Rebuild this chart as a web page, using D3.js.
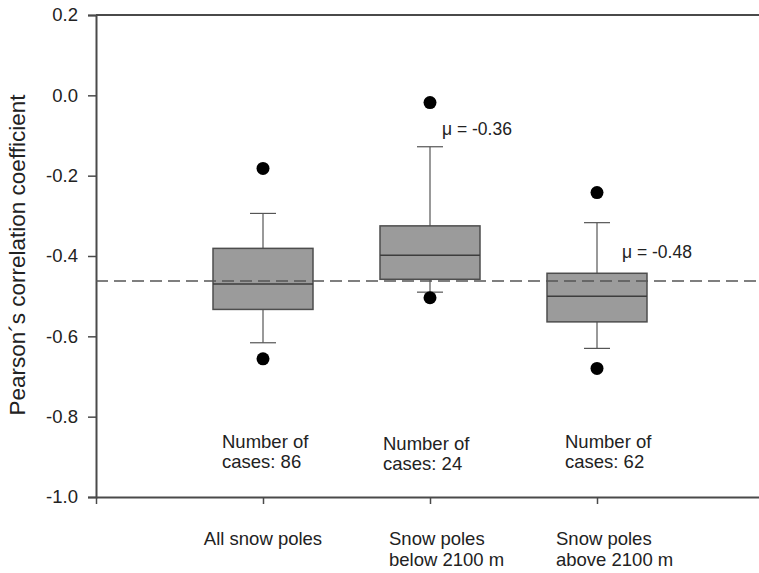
<html>
    <head>
        <style>
            body {
                background-color: white;
                margin: 0;
                padding: 0;
            }
            svg {
                display: block;
                font-family: Arial, "Liberation Sans", Helvetica, sans-serif;
            }
        </style>
        <script src="https://cdn.jsdelivr.net/npm/d3@7"></script>
    </head>
    <body>

        <svg width="759" height="573"></svg>

        <script>
            // box plot values
            const categories = [["All snow poles"], ["Snow poles", "below 2100 m"], ["Snow poles", "above 2100 m"]];
            const whiskerHigh = [-0.294, -0.128, -0.317];
            const q3 = [-0.381, -0.325, -0.443];
            const median = [-0.470, -0.398, -0.500];
            const q1 = [-0.533, -0.458, -0.564];
            const whiskerLow = [-0.616, -0.490, -0.630];
            const outlierHigh = [-0.182, -0.018, -0.242];
            const outlierLow = [-0.656, -0.504, -0.680];
            const caseCounts = [86, 24, 62];
            const meanLabels = [null, "-0.36", "-0.48"];
            const overallMean = -0.462;
            const yTicks = [0.2, 0.0, -0.2, -0.4, -0.6, -0.8, -1.0];

            const svg = d3.select("svg");

            const plotLeft = 96, plotTop = 15, plotBottom = 497, plotRight = 764;
            const y = d3.scaleLinear().domain([-1.0, 0.2]).range([plotBottom, plotTop]);
            const x = d3.scaleLinear().domain([0, 4]).range([plotLeft, plotRight]);
            const boxW = 100, capW = 26;
            const axisColor = "#4a4a4a";

            const boxes = categories.map((c, i) => ({
                pos: i + 1, hi: whiskerHigh[i], q3: q3[i], med: median[i], q1: q1[i], lo: whiskerLow[i],
                outHi: outlierHigh[i], outLo: outlierLow[i], n: caseCounts[i], mu: meanLabels[i], label: c
            }));

            // frame (right side runs off the picture)
            svg.append("line")
                .attr("x1", plotLeft).attr("x2", plotRight)
                .attr("y1", plotTop).attr("y2", plotTop)
                .attr("stroke", axisColor).attr("stroke-width", 2);

            // y axis
            let yAxis = svg.append("g")
                .attr("transform", `translate(${plotLeft},0)`)
                .call(d3.axisLeft(y).tickValues(yTicks).tickSize(8).tickPadding(10));
            yAxis.select(".domain").attr("stroke", axisColor).attr("stroke-width", 2);
            yAxis.selectAll(".tick line").attr("stroke", axisColor).attr("stroke-width", 1.5);
            yAxis.selectAll(".tick text")
                .attr("font-size", "18.5px")
                .attr("font-family", "Arial, 'Liberation Sans', sans-serif")
                .attr("fill", "#222")
                .text(d => d.toFixed(1));

            // x axis
            let xAxis = svg.append("g")
                .attr("transform", `translate(0,${plotBottom})`)
                .call(d3.axisBottom(x).tickValues([0, 1, 2, 3, 4]).tickFormat("").tickSize(7).tickSizeOuter(0));
            xAxis.select(".domain").attr("stroke", axisColor).attr("stroke-width", 2);
            xAxis.selectAll(".tick line").attr("stroke", axisColor).attr("stroke-width", 1.5);

            const g = svg.append("g");

            // whiskers
            boxes.forEach(b => {
                const cx = x(b.pos);
                [[b.q3, b.hi], [b.q1, b.lo]].forEach(([a, e]) => {
                    g.append("line")
                        .attr("x1", cx).attr("x2", cx)
                        .attr("y1", y(a)).attr("y2", y(e))
                        .attr("stroke", "#555").attr("stroke-width", 1.2);
                    g.append("line")
                        .attr("x1", cx - capW / 2).attr("x2", cx + capW / 2)
                        .attr("y1", y(e)).attr("y2", y(e))
                        .attr("stroke", "#555").attr("stroke-width", 1.2);
                });
            });

            // boxes
            g.selectAll("rect.box")
                .data(boxes)
                .join("rect")
                .attr("class", "box")
                .attr("x", d => x(d.pos) - boxW / 2)
                .attr("width", boxW)
                .attr("y", d => y(d.q3))
                .attr("height", d => y(d.q1) - y(d.q3))
                .attr("fill", "#9b9b9b")
                .attr("stroke", "#4d4d4d")
                .attr("stroke-width", 1.5);

            g.selectAll("line.median")
                .data(boxes)
                .join("line")
                .attr("class", "median")
                .attr("x1", d => x(d.pos) - boxW / 2)
                .attr("x2", d => x(d.pos) + boxW / 2)
                .attr("y1", d => y(d.med))
                .attr("y2", d => y(d.med))
                .attr("stroke", "#3d3d3d")
                .attr("stroke-width", 1.5);

            // outliers
            boxes.forEach(b => {
                [b.outHi, b.outLo].forEach(v => {
                    g.append("circle")
                        .attr("cx", x(b.pos)).attr("cy", y(v))
                        .attr("r", 6.5).attr("fill", "black");
                });
            });

            // mean line across the plot
            svg.append("line")
                .attr("x1", plotLeft).attr("x2", plotRight)
                .attr("y1", y(overallMean)).attr("y2", y(overallMean))
                .attr("stroke", "#555").attr("stroke-width", 1.5)
                .attr("stroke-dasharray", "12,6");

            // mu labels
            const muDx = [0, 12, 25];
            const muY = [0, 135, 258];
            boxes.forEach((b, i) => {
                if (b.mu == null) return;
                svg.append("text")
                    .attr("x", x(b.pos) + muDx[i])
                    .attr("y", muY[i])
                    .attr("font-size", "17.5px")
                    .attr("fill", "#222")
                    .text(`\u03bc = ${b.mu}`);
            });

            // number of cases
            const nDx = [-41, -47, -32];
            const nY = [448, 450, 448];
            boxes.forEach((b, i) => {
                let t = svg.append("text")
                    .attr("y", nY[i])
                    .attr("font-size", "18.5px")
                    .attr("fill", "#222");
                t.append("tspan").attr("x", x(b.pos) + nDx[i]).text("Number of");
                t.append("tspan").attr("x", x(b.pos) + nDx[i]).attr("dy", 20).text(`cases: ${b.n}`);
            });

            // category labels
            boxes.forEach(b => {
                const single = b.label.length == 1;
                let t = svg.append("text")
                    .attr("y", 545)
                    .attr("font-size", "18.5px")
                    .attr("fill", "#222")
                    .attr("text-anchor", single ? "middle" : "start");
                b.label.forEach((line, k) => {
                    t.append("tspan")
                        .attr("x", single ? x(b.pos) : x(b.pos) - 41)
                        .attr("dy", k == 0 ? 0 : 21)
                        .text(line);
                });
            });

            // y axis title
            svg.append("text")
                .attr("transform", `translate(25, ${(93 + 417) / 2}) rotate(-90)`)
                .attr("text-anchor", "middle")
                .attr("font-size", "22.5px")
                .attr("fill", "#222")
                .text("Pearson\u00b4s correlation coefficient");
        </script>

    </body>
</html>
